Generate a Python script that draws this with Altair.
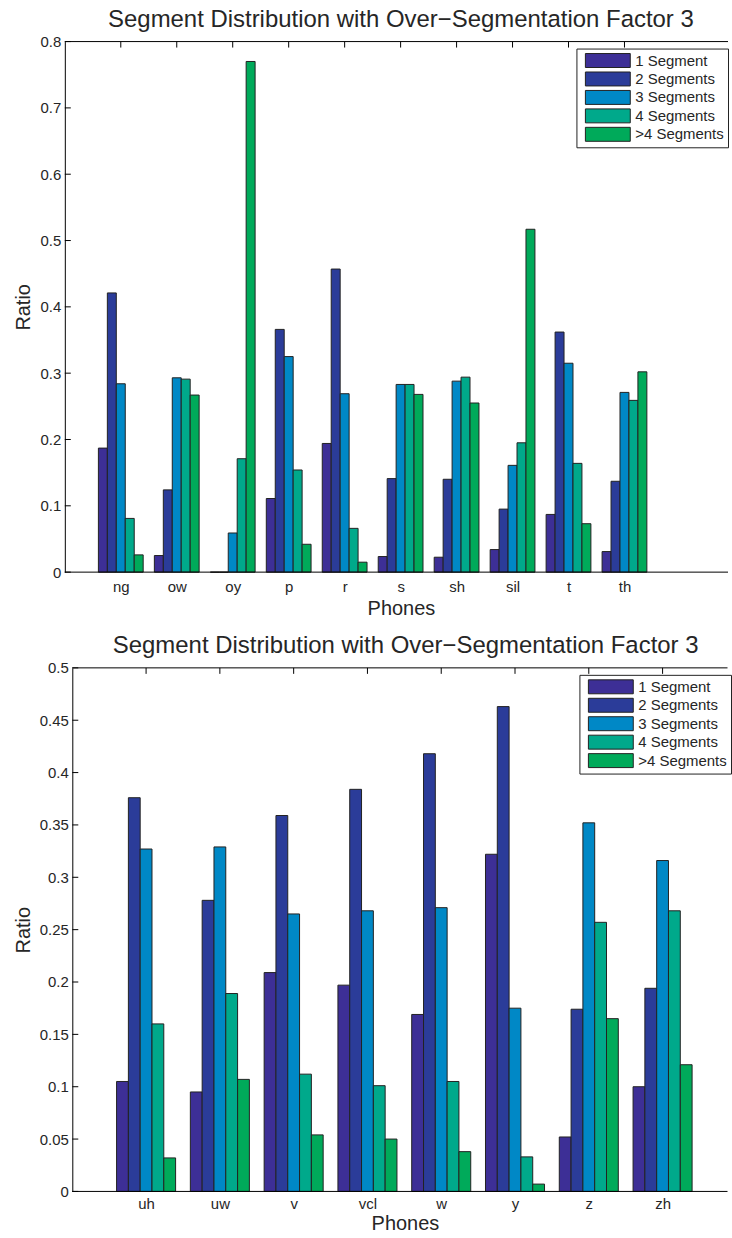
import altair as alt
import pandas as pd

FONT = "Liberation Sans"
TEXT = "#262626"
EDGE = "#222222"

SERIES = ["1 Segment", "2 Segments", "3 Segments", "4 Segments", ">4 Segments"]
COLORS = ["#3d2f96", "#2b3c99", "#0088c6", "#00a98b", "#00aa5a"]
TITLE = "Segment Distribution with Over\u2212Segmentation Factor 3"

# ---- top panel data ----
TOP_PHONES = ["ng", "ow", "oy", "p", "r", "s", "sh", "sil", "t", "th"]
TOP_S1 = [0.187, 0.025, 0.0, 0.111, 0.194, 0.0235, 0.0225, 0.034, 0.087, 0.031]
TOP_S2 = [0.421, 0.124, 0.0, 0.366, 0.457, 0.141, 0.140, 0.095, 0.362, 0.137]
TOP_S3 = [0.284, 0.293, 0.059, 0.325, 0.269, 0.283, 0.288, 0.161, 0.315, 0.271]
TOP_S4 = [0.081, 0.291, 0.171, 0.154, 0.066, 0.283, 0.294, 0.195, 0.164, 0.259]
TOP_S5 = [0.026, 0.267, 0.770, 0.042, 0.015, 0.268, 0.255, 0.517, 0.073, 0.302]
TOP_YTICKS = [0, 0.1, 0.2, 0.3, 0.4, 0.5, 0.6, 0.7, 0.8]

# ---- bottom panel data ----
BOT_PHONES = ["uh", "uw", "v", "vcl", "w", "y", "z", "zh"]
BOT_S1 = [0.105, 0.095, 0.209, 0.197, 0.169, 0.322, 0.052, 0.100]
BOT_S2 = [0.376, 0.278, 0.359, 0.384, 0.418, 0.463, 0.174, 0.194]
BOT_S3 = [0.327, 0.329, 0.265, 0.268, 0.271, 0.175, 0.352, 0.316]
BOT_S4 = [0.160, 0.189, 0.112, 0.101, 0.105, 0.033, 0.257, 0.268]
BOT_S5 = [0.032, 0.107, 0.054, 0.050, 0.038, 0.007, 0.165, 0.121]
BOT_YTICKS = [0, 0.05, 0.1, 0.15, 0.2, 0.25, 0.3, 0.35, 0.4, 0.45, 0.5]


def long_df(phones, series_vals):
    rows = []
    for k, (name, vals) in enumerate(zip(SERIES, series_vals)):
        for g, (ph, v) in enumerate(zip(phones, vals)):
            rows.append({"phone": ph, "series": name, "k": k, "g": g + 1, "ratio": v})
    return pd.DataFrame(rows)


LEGEND_PATH = "M-0.4,-0.933H5.6V0.933H-0.4Z"


def panel(phones, series_vals, yticks, yfmt, width, height, xmax, shift,
          title_dx, ratio_x, xlab_pad, phones_x, phones_y, leg_x, leg_y, chan):
    df = long_df(phones, series_vals)
    ymax = yticks[-1]
    xscale = alt.Scale(domain=[0, xmax], range=[shift, width], nice=False, zero=False)
    yscale = alt.Scale(domain=[0, ymax], nice=False, zero=True)
    label_expr = "[" + ",".join("'%s'" % p for p in [""] + phones) + "][datum.value] || ''"

    xaxis = alt.Axis(values=list(range(1, len(phones) + 1)), labelExpr=label_expr,
                     ticks=False, grid=False, domain=False,
                     labelFontSize=15, labelColor=TEXT,
                     labelBaseline="alphabetic", labelPadding=xlab_pad,
                     labelAngle=0, labelFlush=False, labelFont=FONT,
                     title="Phones", titleFontSize=20, titleFontWeight="normal",
                     titleColor=TEXT, titleFont=FONT, titleX=phones_x,
                     titleY=phones_y, titleAlign="center",
                     titleBaseline="alphabetic")
    yaxis = alt.Axis(values=yticks, format=yfmt, ticks=False, offset=-shift,
                     grid=False, domainColor="black", domainWidth=1,
                     labelFontSize=15, labelColor=TEXT, labelPadding=4,
                     labelFont=FONT, labelBaseline="middle",
                     title="Ratio", titleFontSize=20, titleFontWeight="normal",
                     titleColor=TEXT, titleFont=FONT, titleX=ratio_x,
                     titleY=height / 2, titleAngle=270, titleAlign="center",
                     titleBaseline="alphabetic")

    legend = alt.Legend(orient="none", legendX=leg_x, legendY=leg_y,
                        title=None, symbolType=LEGEND_PATH,
                        symbolSize=225, symbolStrokeColor=EDGE,
                        symbolStrokeWidth=1, symbolOpacity=1,
                        labelFontSize=15, labelFont=FONT,
                        labelColor=TEXT, labelOffset=39,
                        rowPadding=0.5, padding=4,
                        strokeColor=EDGE, fillColor="white")
    cscale = alt.Scale(domain=SERIES, range=COLORS)
    if chan == "fill":
        cenc = {"fill": alt.Fill("series:N", scale=cscale, legend=legend)}
    else:
        cenc = {"color": alt.Color("series:N", scale=cscale, legend=legend)}

    bars = alt.Chart(df).transform_calculate(
        x0="datum.g - 0.4 + 0.16 * datum.k",
        x1="datum.g - 0.24 + 0.16 * datum.k",
        base="0",
    ).mark_rect(stroke=EDGE, strokeWidth=1, opacity=1).encode(
        x=alt.X("x0:Q", scale=xscale, axis=xaxis),
        x2="x1:Q",
        y=alt.Y("ratio:Q", scale=yscale, axis=yaxis),
        y2="base:Q",
        **cenc,
    )

    ytick_df = pd.DataFrame({"v": yticks})
    yt = alt.Chart(ytick_df).mark_rule(color="black", strokeWidth=1).encode(
        y=alt.Y("v:Q", scale=yscale, axis=yaxis),
        x=alt.value(shift), x2=alt.value(shift + 6))

    xtick_df = pd.DataFrame({"p": list(range(1, len(phones) + 1))})
    xt = alt.Chart(xtick_df).mark_rule(color="black", strokeWidth=1).encode(
        x=alt.X("p:Q", scale=xscale, axis=xaxis),
        y=alt.value(0), y2=alt.value(6))

    frame_df = pd.DataFrame({"a": [0]})
    top_line = alt.Chart(frame_df).mark_rule(color="black", strokeWidth=1).encode(
        x=alt.value(shift), x2=alt.value(width), y=alt.value(0))
    bottom_line = alt.Chart(frame_df).mark_rule(color="black", strokeWidth=1).encode(
        x=alt.value(shift), x2=alt.value(width), y=alt.value(height))

    return alt.layer(bars, yt, xt, top_line, bottom_line).properties(
        width=width, height=height,
        title=alt.TitleParams(TITLE, fontSize=24, fontWeight="normal", color=TEXT,
                              font=FONT, anchor="middle", dx=title_dx, offset=3),
    )


top = panel(TOP_PHONES, [TOP_S1, TOP_S2, TOP_S3, TOP_S4, TOP_S5], TOP_YTICKS, ".1~f",
            665, 532, 11.85, 0, 4.5, -35.5, 19, 337, 42, 513, 7, "fill")
bottom = panel(BOT_PHONES, [BOT_S1, BOT_S2, BOT_S3, BOT_S4, BOT_S5], BOT_YTICKS, ".2~f",
               664.5, 525, 8.88, 7.5, 9.5, -43, 17.5, 341, 38.5, 516, 7, "color")

chart = alt.concat(top, bottom, columns=1, spacing=16, align="none").resolve_scale(
    color="independent", fill="independent").resolve_legend(
    color="independent", fill="independent").configure_view(
    stroke=None).properties(
    padding={"left": 13, "top": 6, "right": 0, "bottom": 0})

chart.save("out.html", embed_options={"renderer": "svg", "actions": False})
